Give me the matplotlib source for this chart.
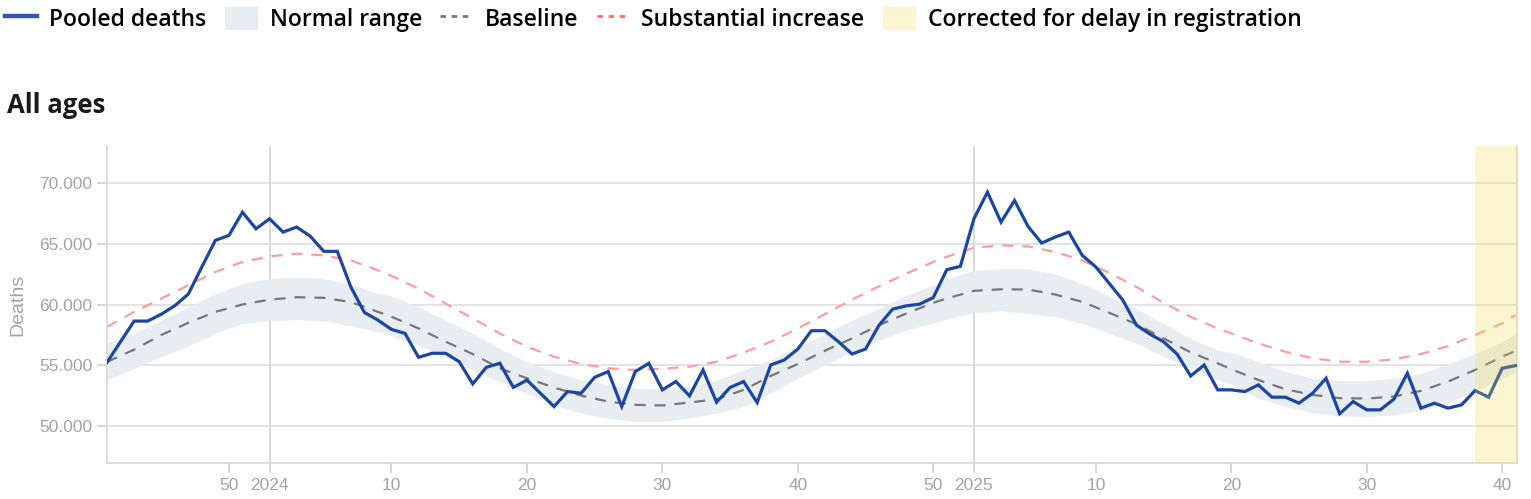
import matplotlib
matplotlib.use('Agg')
import matplotlib.pyplot as plt
import numpy as np
from matplotlib.ticker import FuncFormatter

# weekly pooled deaths, 2023-W41 .. 2025-W41 (index 0 = 2023-W41)
pooled_deaths = [55260, 56950, 58640, 58640, 59200, 59900, 60850, 63080, 65260, 65670,
                 67570, 66210, 67030, 65940, 66350, 65610, 64360, 64360, 61440, 59350,
                 58720, 57960, 57630, 55670, 56000, 56000, 55310, 53490, 54850, 55180,
                 53200, 53800, 52720, 51630, 52860, 52720, 54030, 54500, 51630, 54500,
                 55180, 53000, 53680, 52510, 54630, 51990, 53200, 53680, 51960, 55040,
                 55450, 56350, 57850, 57850, 56950, 55940, 56350, 58310, 59620, 59890,
                 60030, 60570, 62860, 63130, 67030, 69210, 66760, 68530, 66400, 65040,
                 65530, 65940, 64030, 63080, 61720, 60350, 58310, 57570, 56950, 55940,
                 54140, 55040, 53000, 53000, 52860, 53410, 52400, 52400, 51910, 52720,
                 53950, 51040, 52040, 51360, 51360, 52230, 54360, 51500, 51910, 51500,
                 51770, 52940, 52400, 54770, 54990]

# smooth reference curves, read at these week indices
ref_idx = [0, 2, 4, 6, 8, 10, 12, 14, 16, 18, 20, 21, 23, 25, 27, 29, 31, 33, 35, 37,
           39, 41, 43, 45, 47, 49, 51, 53, 55, 57, 59, 61, 62, 64, 66, 68, 70, 72, 74,
           76, 78, 80, 82, 83, 85, 87, 89, 91, 93, 95, 97, 99, 101, 103, 104]
baseline = [55300, 56300, 57500, 58500, 59400, 60000, 60400, 60600, 60550, 60200,
            59400, 59000, 58040, 56950, 55940, 54770, 53950, 53190, 52530, 52040,
            51770, 51720, 51960, 52230, 53000, 54140, 55120, 56210, 57220, 58310,
            59260, 60140, 60500, 61120, 61250, 61230, 60820, 60220, 59320, 58390,
            57220, 56080, 55180, 54690, 53810, 53050, 52590, 52320, 52290, 52450,
            52920, 53680, 54630, 55720, 56210]
substantial = [58170, 59400, 60490, 61580, 62670, 63490, 63950, 64170, 64030, 63620,
               62810, 62350, 61310, 60080, 58860, 57630, 56540, 55720, 55120, 54770,
               54630, 54740, 54900, 55310, 56050, 56950, 58040, 59210, 60410, 61500,
               62530, 63490, 63920, 64660, 64850, 64770, 64310, 63620, 62590, 61440,
               60140, 58990, 58040, 57630, 56810, 56130, 55590, 55310, 55310, 55500,
               55940, 56590, 57490, 58450, 59130]
normal_upper = [56870, 57630, 58720, 59810, 60900, 61720, 62130, 62260, 62130, 61660,
                60900, 60700, 59810, 58720, 57630, 56400, 55310, 54500, 53810, 53410,
                53130, 53040, 53270, 53810, 54630, 55450, 56540, 57630, 58720, 59670,
                60760, 61580, 62100, 62810, 62940, 62940, 62530, 61720, 60680, 59670,
                58450, 57220, 56270, 56100, 55310, 54500, 53950, 53760, 53760, 53950,
                54360, 55120, 55990, 56950, 57630]
normal_lower = [53810, 54770, 55720, 56590, 57630, 58450, 58660, 58770, 58640, 58260,
                57770, 57430, 56680, 55720, 54630, 53680, 52720, 51770, 51090, 50680,
                50400, 50400, 50680, 51090, 51630, 52720, 53950, 55040, 56130, 57080,
                57900, 58450, 58800, 59320, 59480, 59260, 58990, 58450, 57630, 56810,
                55720, 54770, 53810, 53450, 52320, 51630, 51140, 50870, 50820, 50950,
                51310, 51960, 52860, 53950, 54500]

tick_pos = [9, 12, 21, 31, 41, 51, 61, 64, 73, 83, 93, 103]
tick_labels = ['50', '2024', '10', '20', '30', '40', '50', '2025', '10', '20', '30', '40']
corrected_from = 101   # last weeks corrected for delay in registration

weeks = np.arange(len(pooled_deaths))

fig = plt.figure(figsize=(15.31, 4.99), dpi=100)
ax = fig.add_axes([0.0699, 0.0721, 0.921, 0.6353])

ax.fill_between(ref_idx, normal_lower, normal_upper, color='#e8edf2', lw=0, zorder=1)
ax.plot(ref_idx, baseline, color='#777777', lw=1.6, dashes=(5, 4), zorder=2)
ax.plot(ref_idx, substantial, color='#ff9d9d', lw=1.6, dashes=(5, 4), zorder=2)
ax.plot(weeks, pooled_deaths, color='#1c46a2', lw=2.3, zorder=3, solid_joinstyle='miter')
ax.axvspan(corrected_from, weeks[-1] + 0.5, color='#f7db43', alpha=0.25, lw=0, zorder=4)

ax.set_xlim(0, 104.1)
ax.set_ylim(47000, 73000)
ax.set_yticks([50000, 55000, 60000, 65000, 70000])
ax.yaxis.set_major_formatter(FuncFormatter(lambda v, p: '{:,.0f}'.format(v).replace(',', '.')))
ax.set_xticks(tick_pos)
ax.set_xticklabels(tick_labels)
ax.grid(axis='y', color='#e0e0e0', lw=1.3)
ax.set_axisbelow(True)
for p, l in zip(tick_pos, tick_labels):
    if len(l) == 4:
        ax.axvline(p, color='#d2d2d2', lw=1.2, zorder=0.5)

ax.spines['top'].set_visible(False)
for s in ['left', 'bottom', 'right']:
    ax.spines[s].set_color('#dadada')
    ax.spines[s].set_linewidth(1.3)
ax.tick_params(colors='#d0d0d0', labelcolor='#a3a3a3', length=7, width=1.2, labelsize=12.5)
for t in ax.get_xticklabels() + ax.get_yticklabels():
    t.set_family('Liberation Sans')
ax.set_ylabel('Deaths', color='#a3a3a3', fontsize=14, family='Liberation Sans', labelpad=9)

fig.text(7 / 1531, 1 - 113 / 499, 'All ages', fontsize=18.5, fontweight='bold',
         family='Open Sans', color='#1a1a1a', va='baseline')

h_pool, = ax.plot([], [], color='#3557b4', lw=3.2)
h_norm = plt.Rectangle((0, 0), 1, 1, color='#e8edf2')
h_base, = ax.plot([], [], color='#777777', lw=2, dashes=(2, 2))
h_subs, = ax.plot([], [], color='#ff6b6b', lw=2, dashes=(2, 2))
h_corr = plt.Rectangle((0, 0), 1, 1, color='#fdf5cf')
fig.legend([h_pool, h_norm, h_base, h_subs, h_corr],
           ['Pooled deaths', 'Normal range', 'Baseline', 'Substantial increase',
            'Corrected for delay in registration'],
           loc='upper left', bbox_to_anchor=(0.0, 0.995), ncol=5, frameon=False,
           handlelength=1.4, handleheight=1.1, handletextpad=0.55, columnspacing=0.8,
           borderpad=0.15, borderaxespad=0.05,
           prop={'family': 'Open Sans', 'weight': 'semibold', 'size': 16.5})

fig.savefig('out.png', dpi=100)
